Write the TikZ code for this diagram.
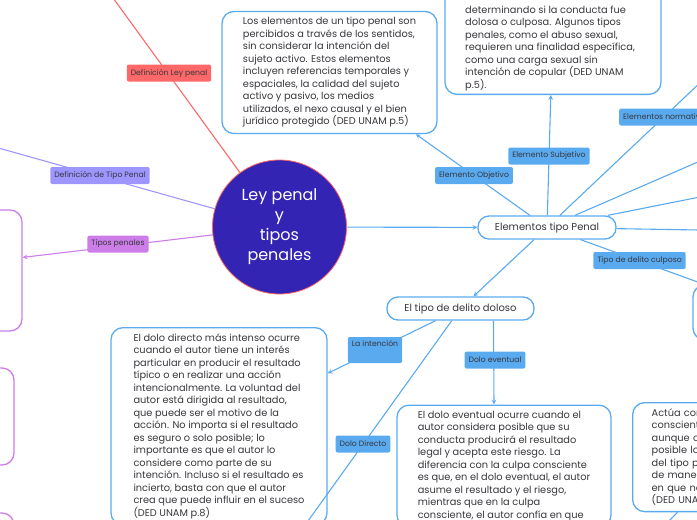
\documentclass[tikz,border=0pt]{standalone}
\usepackage{fontspec}
\setmainfont{Poppins}
\tikzset{>=stealth}
\usetikzlibrary{backgrounds}
\usetikzlibrary{shapes,positioning}
\definecolor{penBlue}{RGB}{90,170,240}
\definecolor{penRed}{RGB}{255,104,104}
\definecolor{penLav}{RGB}{158,150,255}
\definecolor{penPurple}{RGB}{204,125,232}
\definecolor{inkCircle}{RGB}{51,36,179}
\definecolor{inkText}{RGB}{55,55,60}
\tikzset{
	box/.style={draw=penBlue, line width=1.3pt, rounded corners=12pt, align=left, text=inkText, font=\fontsize{9.8}{12.5}\selectfont, inner ysep=6pt},
	tag/.style={rounded corners=2pt, inner xsep=4pt, inner ysep=0pt, minimum height=17pt, text=inkText, font=\fontsize{7.7}{9}\selectfont},
	link/.style={line width=1.1pt},
	pill/.style={draw=penBlue, line width=1.3pt, rounded corners=11pt, minimum height=23pt, text=inkText, font=\fontsize{10}{12}\selectfont},
	sidebox/.style={draw=penPurple, line width=1.3pt, rounded corners=12pt}
}
\begin{document}
\begin{tikzpicture}[x=1pt,y=-1pt]
	\useasboundingbox (0,0) rectangle (697,520);
	\clip (0,0) rectangle (697,520);
	% centre
	\node[circle, fill=inkCircle, draw=penRed, line width=0.8pt, minimum size=134pt, text=white, align=center, font=\fontsize{16}{20}\selectfont] (ley) at (279.5,227) {Ley penal\\y\\tipos\\penales};
	% boxes
	\node[box, minimum width=215pt] (objBox) at (329.5,72.5) {Los elementos de un tipo penal son\\percibidos a través de los sentidos,\\sin considerar la intención del\\sujeto activo. Estos elementos\\incluyen referencias temporales y\\espaciales, la calidad del sujeto\\activo y pasivo, los medios\\utilizados, el nexo causal y el bien\\jurídico protegido (DED UNAM p.5)};
	\node[box, anchor=south, minimum width=216pt, minimum height=150pt] (subjBox) at (553,95) {};
	\node[anchor=south west, align=left, inner sep=0pt, text=inkText, font=\fontsize{9.8}{12.5}\selectfont] (subjText) at (465,91) {determinando si la conducta fue\\dolosa o culposa. Algunos tipos\\penales, como el abuso sexual,\\requieren una finalidad específica,\\como una carga sexual sin\\intención de copular (DED UNAM\\p.5).};
	\node[pill, minimum width=138pt] (elem) at (547,227.5) {Elementos tipo Penal};
	\node[pill, minimum width=147pt] (doloso) at (460.5,308.5) {El tipo de delito doloso};
	\node[box, minimum width=178pt, minimum height=55pt] (culpBox) at (782,312.5) {};
	\node[box, anchor=north, minimum width=216pt] (dirBox) at (219,327) {El dolo directo más intenso ocurre\\cuando el autor tiene un interés\\particular en producir el resultado\\típico o en realizar una acción\\intencionalmente. La voluntad del\\autor está dirigida al resultado,\\que puede ser el motivo de la\\acción. No importa si el resultado\\es seguro o solo posible; lo\\importante es que el autor lo\\considere como parte de su\\intención. Incluso si el resultado es\\incierto, basta con que el autor\\crea que puede influir en el suceso\\(DED UNAM p.8)};
	\node[box, anchor=north, minimum width=214pt] (evBox) at (504,404.5) {El dolo eventual ocurre cuando el\\autor considera posible que su\\conducta producirá el resultado\\legal y acepta este riesgo. La\\diferencia con la culpa consciente\\es que, en el dolo eventual, el autor\\asume el resultado y el riesgo,\\mientras que en la culpa\\consciente, el autor confía en que};
	\node[box, anchor=north west, text width=200pt, inner xsep=19pt] (actBox) at (632,402) {Actúa con\\conscient\\aunque c\\posible lo\\del tipo p\\de maner\\en que no\\(DED UNA};
	\node[sidebox, minimum width=222pt, minimum height=121pt] (tiposBox) at (-89,270.5) {};
	\node[sidebox, minimum width=214pt, minimum height=97pt] (sideA) at (-93,416.5) {};
	\node[sidebox, minimum width=214pt, minimum height=94pt] (sideB) at (-93,560) {};
	% ends off the page
	\coordinate (leyEnd) at (100,-20);
	\coordinate (defEnd) at (-30,140);
	\coordinate (normEnd) at (740,45);
	\coordinate (rightA) at (760,135);
	\coordinate (rightB) at (760,185);
	\coordinate (rightC) at (760,231);
	\coordinate (dirEnd) at (280,560);
	\coordinate (actEnd) at (662,528);
	% tags
	\node[tag, fill=penRed] (tLey) at (169,73) {Definición Ley penal};
	\node[tag, fill=penLav] (tDef) at (100,175.5) {Definición de Tipo Penal};
	\node[tag, fill=penPurple] (tTipos) at (118,244) {Tipos penales};
	\node[tag, fill=penBlue] (tObj) at (474,175.5) {Elemento Objetivo};
	\node[tag, fill=penBlue] (tSubj) at (549,156) {Elemento Subjetivo};
	\node[tag, fill=penBlue, anchor=west] (tNorm) at (619,117) {Elementos normativos};
	\node[tag, fill=penBlue] (tCulp) at (639.5,260.5) {Tipo de delito culposo};
	\node[tag, fill=penBlue, minimum height=26pt, text depth=14pt] (tInt) at (375,350) {La intención};
	\node[tag, fill=penBlue] (tDir) at (363,444) {Dolo Directo};
	\node[tag, fill=penBlue] (tEv) at (495,360) {Dolo eventual};
	% connectors
	\begin{scope}[on background layer]
		\draw[link, penRed] (ley) -- (leyEnd);
		\draw[link, penLav] (ley) -- (defEnd);
		\draw[link, penPurple, ->] (ley) -- (tiposBox);
		\draw[link, penBlue, ->] (ley) -- (elem);
		\draw[link, penBlue, ->] (elem) -- (objBox);
		\draw[link, penBlue, ->] (elem) -- (subjBox);
		\draw[link, penBlue] (elem) -- (normEnd);
		\draw[link, penBlue] (elem) -- (rightA);
		\draw[link, penBlue] (elem) -- (rightB);
		\draw[link, penBlue] (elem) -- (rightC);
		\draw[link, penBlue, ->] (elem) -- (culpBox);
		\draw[link, penBlue, ->] (elem) -- (doloso);
		\draw[link, penBlue, ->] (doloso) -- (dirBox);
		\draw[link, penBlue] (doloso) -- (dirEnd);
		\draw[link, penBlue, ->] ([xshift=33pt]doloso.south) -- ([xshift=-10pt]evBox.north);
		\draw[link, penBlue] ([xshift=-74pt]actBox.south) -- (actEnd);
	\end{scope}
\end{tikzpicture}
\end{document}
